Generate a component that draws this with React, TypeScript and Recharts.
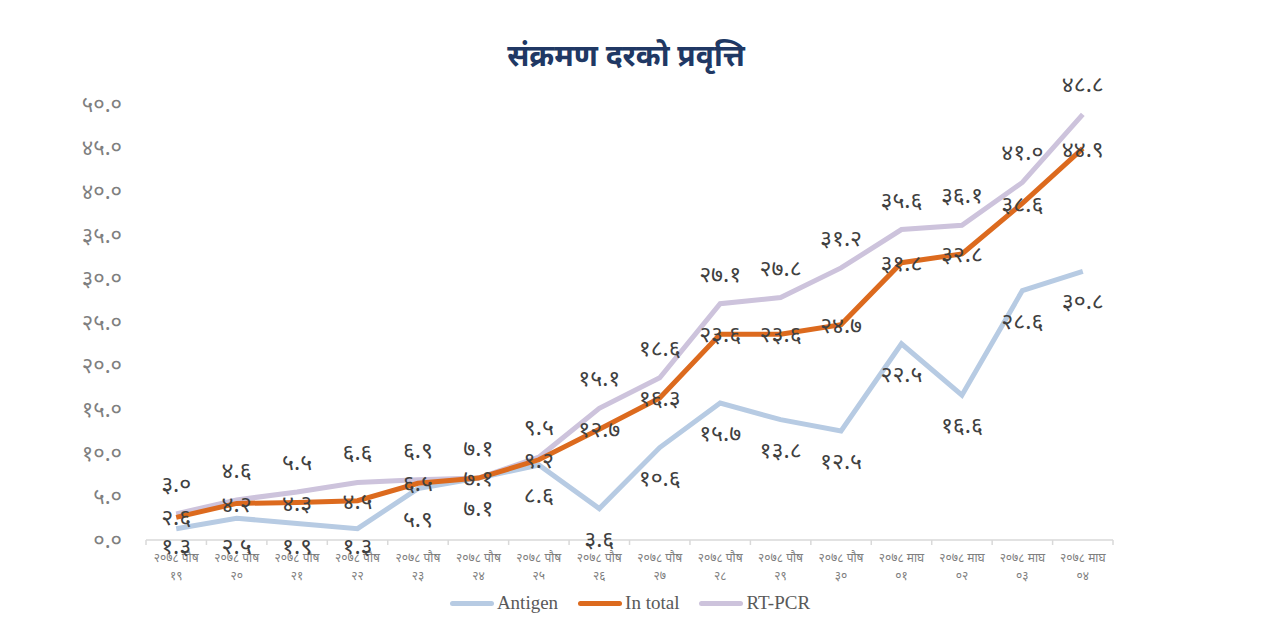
import { LineChart, Line, XAxis, YAxis, LabelList } from 'recharts';

// x categories (date, split into two lines on the axis)
const dates = [
  '२०७८ पौष १९', '२०७८ पौष २०', '२०७८ पौष २१', '२०७८ पौष २२',
  '२०७८ पौष २३', '२०७८ पौष २४', '२०७८ पौष २५', '२०७८ पौष २६',
  '२०७८ पौष २७', '२०७८ पौष २८', '२०७८ पौष २९', '२०७८ पौष ३०',
  '२०७८ माघ ०१', '२०७८ माघ ०२', '२०७८ माघ ०३', '२०७८ माघ ०४',
];

const antigen = [1.3, 2.5, 1.9, 1.3, 5.9, 7.1, 8.6, 3.6, 10.6, 15.7, 13.8, 12.5, 22.5, 16.6, 28.6, 30.8];
const inTotal = [2.6, 4.2, 4.3, 4.5, 6.5, 7.1, 9.2, 12.7, 16.3, 23.6, 23.6, 24.7, 31.8, 32.8, 38.6, 44.9];
const rtPcr = [3.0, 4.6, 5.5, 6.6, 6.9, 7.1, 9.5, 15.1, 18.6, 27.1, 27.8, 31.2, 35.6, 36.1, 41.0, 48.8];

const yTicks = [0, 5, 10, 15, 20, 25, 30, 35, 40, 45, 50];

const series = [
  { key: 'antigen', name: 'Antigen', color: '#b7cbe3' },
  { key: 'inTotal', name: 'In total', color: '#dc6a1e' },
  { key: 'rtPcr', name: 'RT-PCR', color: '#cdc3dc' },
];

const data = dates.map((d, i) => ({
  date: d,
  antigen: antigen[i],
  inTotal: inTotal[i],
  rtPcr: rtPcr[i],
}));

const DEV = '०१२३४५६७८९';
const toDev = (s: string) => s.replace(/[0-9]/g, (c) => DEV[+c]);
const fmt = (v: any) => toDev(Number(v).toFixed(1));

const FONT = "'Noto Sans', 'DejaVu Sans', sans-serif";
const HALF = 30.2;

function XTick(props: any) {
  const { x, y, payload, index, visibleTicksCount } = props;
  const parts = String(payload.value).split(' ');
  const top = parts.slice(0, 2).join(' ');
  const bottom = parts[2];
  return (
    <g>
      <line x1={x - HALF} y1={y - 8} x2={x - HALF} y2={y - 3} stroke="#d9d9d9" strokeWidth={1.5} />
      {index === visibleTicksCount - 1 && (
        <line x1={x + HALF} y1={y - 8} x2={x + HALF} y2={y - 3} stroke="#d9d9d9" strokeWidth={1.5} />
      )}
      <text x={x} y={y + 14} textAnchor="middle" fontSize={12} fill="#7f7f7f" fontFamily={FONT}>
        {top}
      </text>
      <text x={x} y={y + 32} textAnchor="middle" fontSize={12} fill="#7f7f7f" fontFamily={FONT}>
        {bottom}
      </text>
    </g>
  );
}

const labelStyle = { fontSize: 23, fill: '#404040', fontFamily: FONT };
const yTickStyle = { fontSize: 22, fill: '#7f7f7f', fontFamily: FONT };

// antigen labels sit below the line but are kept from sliding under the axis
function AntigenLabel(props: any) {
  const { x, y, value } = props;
  return (
    <text x={x} y={Math.min(y + 38, 554)} textAnchor="middle" {...labelStyle}>
      {fmt(value)}
    </text>
  );
}

export default function App() {
  return (
    <div style={{ position: 'absolute', left: 0, top: 0, width: 1275, height: 619, background: '#fff' }}>
      <div
        style={{
          position: 'absolute', top: 34, left: 0, width: 1252, textAlign: 'center',
          fontFamily: FONT, fontWeight: 700, fontSize: 30, color: '#203864',
        }}
      >
        संक्रमण दरको प्रवृत्ति
      </div>
      <LineChart width={1275} height={619} data={data} margin={{ top: 104, right: 92, bottom: 29, left: 76 }}>
        <XAxis
          dataKey="date"
          padding={{ left: HALF, right: HALF }}
          axisLine={{ stroke: '#d9d9d9', strokeWidth: 1.5 }}
          tickLine={false}
          tick={<XTick />}
          interval={0}
          height={50}
        />
        <YAxis
          yAxisId="left"
          domain={[0, 50]}
          ticks={yTicks}
          tickFormatter={fmt}
          axisLine={false}
          tickLine={false}
          tickSize={0}
          tickMargin={24}
          tick={yTickStyle}
          width={70}
        />
        <YAxis
          yAxisId="right"
          orientation="right"
          domain={[0, 50]}
          ticks={yTicks}
          tickFormatter={fmt}
          axisLine={false}
          tickLine={false}
          tickSize={0}
          tickMargin={20}
          tick={{ ...yTickStyle, textAnchor: 'start' }}
          width={70}
        />
        <Line yAxisId="left" dataKey="antigen" name="Antigen" stroke="#b7cbe3" strokeWidth={5} dot={false} isAnimationActive={false}>
          <LabelList dataKey="antigen" content={<AntigenLabel />} />
        </Line>
        <Line yAxisId="left" dataKey="rtPcr" name="RT-PCR" stroke="#cdc3dc" strokeWidth={5} dot={false} isAnimationActive={false}>
          <LabelList dataKey="rtPcr" position="top" offset={22} formatter={fmt} style={labelStyle} />
        </Line>
        <Line yAxisId="left" dataKey="inTotal" name="In total" stroke="#dc6a1e" strokeWidth={5} dot={false} isAnimationActive={false}>
          <LabelList dataKey="inTotal" position="center" formatter={fmt} style={labelStyle} />
        </Line>
      </LineChart>
      <div
        style={{
          position: 'absolute', top: 592, left: 0, width: 1260, display: 'flex', justifyContent: 'center',
          gap: 20, fontFamily: "'Liberation Serif', serif", fontSize: 19, color: '#595959',
        }}
      >
        {series.map((s) => (
          <div key={s.key} style={{ display: 'flex', alignItems: 'center' }}>
            <span style={{ display: 'inline-block', width: 44, height: 5, borderRadius: 3, background: s.color, marginRight: 3 }} />
            {s.name}
          </div>
        ))}
      </div>
    </div>
  );
}
